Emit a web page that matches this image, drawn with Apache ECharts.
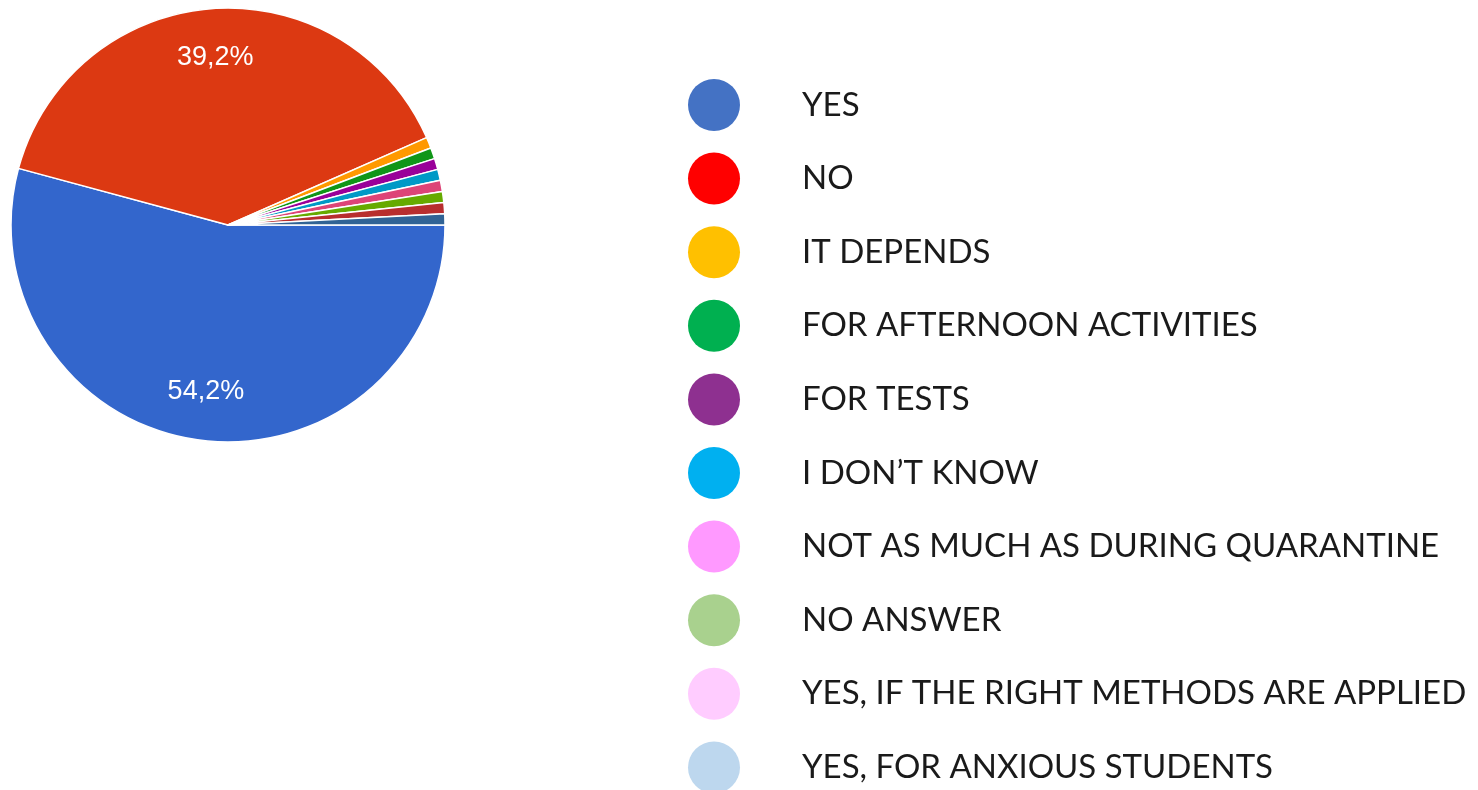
<!DOCTYPE html>
<html>
<head>
<meta charset="utf-8">
<script src="https://cdn.jsdelivr.net/npm/echarts@6/dist/echarts.min.js"></script>
<style>
html,body{margin:0;padding:0;background:#fff;}
#chart{width:1478px;height:790px;}
</style>
</head>
<body>
<div id="chart"></div>
<script>
const categories = ['YES','NO','IT DEPENDS','FOR AFTERNOON ACTIVITIES','FOR TESTS','I DON’T KNOW','NOT AS MUCH AS DURING QUARANTINE','NO ANSWER','YES, IF THE RIGHT METHODS ARE APPLIED','YES, FOR ANXIOUS STUDENTS'];
const values = [54.2, 39.2, 0.825, 0.825, 0.825, 0.825, 0.825, 0.825, 0.825, 0.825];
const sliceColors = ['#3366CC','#DC3912','#FF9900','#109618','#990099','#0099C6','#DD4477','#66AA00','#B82E2E','#316395'];
const legendColors = ['#4472C4','#FF0000','#FFC000','#00B050','#8E3090','#00B0F0','#FF99FF','#A9D18E','#FFCCFF','#BDD7EE'];

const total = values.reduce((a,b)=>a+b,0);
const pieData = categories.map((n,i)=>({name:n, value:values[i], itemStyle:{color:sliceColors[i]}}));
const labelData = categories.map((n,i)=>({name:n, value:values[i]}));
const legendData = categories.map((n,i)=>({name:n, itemStyle:{color:legendColors[i]}}));

const chart = echarts.init(document.getElementById('chart'));
chart.setOption({
  animation:false,
  backgroundColor:'#fff',
  legend:{
    orient:'vertical',
    left:683, top:74,
    height:760,
    icon:'circle',
    itemWidth:52, itemHeight:52,
    itemGap:21.6,
    selectedMode:false,
    data:legendData,
    itemStyle:{borderWidth:0},
    textStyle:{fontFamily:'Lato', fontSize:33, color:'#1a1a1a', padding:[0,0,0,57]}
  },
  series:[
    {
      type:'pie',
      center:[228,225],
      radius:217,
      startAngle:0,
      clockwise:true,
      silent:true,
      data:pieData,
      itemStyle:{borderColor:'#fff', borderWidth:1.5},
      label:{show:false},
      labelLine:{show:false},
      emphasis:{disabled:true}
    },
    {
      type:'pie',
      center:[228,225],
      radius:[113,217],
      startAngle:0,
      clockwise:true,
      silent:true,
      data:labelData,
      itemStyle:{color:'rgba(0,0,0,0)', borderWidth:0},
      label:{
        show:true, position:'inside',
        color:'#fff', fontFamily:'Liberation Sans, Arial', fontSize:27,
        formatter:p => (p.value/total*100 >= 5 ? (p.value/total*100).toFixed(1).replace('.',',') + '%' : '')
      },
      labelLine:{show:false},
      emphasis:{disabled:true}
    }
  ]
});
</script>
</body>
</html>
